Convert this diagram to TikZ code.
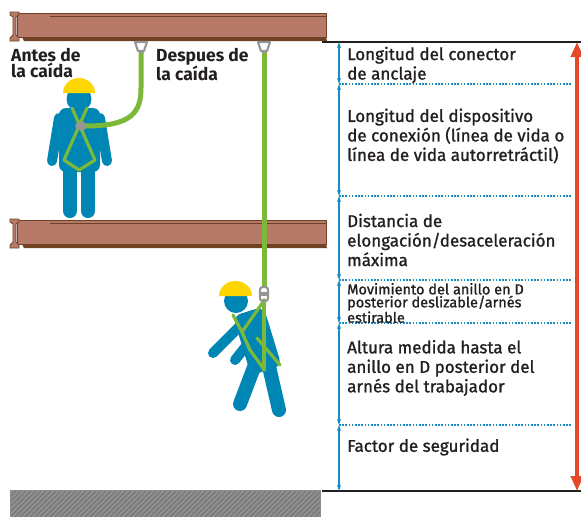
\documentclass[tikz,border=0pt]{standalone}
\usepackage{fontspec}
\setmainfont{Fira Sans}
\newfontfamily\notefont{Fira Sans}[FakeBold=1.2]
\usetikzlibrary{arrows.meta,positioning}

\definecolor{beamface}{RGB}{183,122,104}
\definecolor{beamdark}{RGB}{112,66,36}
\definecolor{workerblue}{RGB}{0,134,181}
\definecolor{hatyellow}{RGB}{255,214,0}
\definecolor{harnessgreen}{RGB}{124,184,58}
\definecolor{ringgray}{RGB}{150,150,150}
\definecolor{dimblue}{RGB}{26,140,195}
\definecolor{fallred}{RGB}{232,72,42}
\definecolor{floorgray}{RGB}{142,142,142}
\definecolor{textdark}{RGB}{35,31,32}

\tikzset{
  body/.style={fill=workerblue},
  limb/.style={draw=workerblue, line cap=round},
  strap/.style={draw=harnessgreen, line width=3.2, line join=round, line cap=round},
  lanyard/.style={draw=harnessgreen, line width=5},
  ring/.style={draw=ringgray, line width=2.2, line join=round},
  dimarrow/.style={draw=dimblue, line width=1.3,
    {Stealth[length=6pt,width=4pt]}-{Stealth[length=6pt,width=4pt]}},
  dotline/.style={draw=dimblue, line width=1.2, dash pattern=on 1.6pt off 1.6pt},
  lbl/.style={anchor=west, align=left, inner sep=0pt, text=textdark,
    font=\notefont\fontsize{17}{19.5}\selectfont},
  caption/.style={anchor=north west, align=left, inner sep=0pt, text=textdark,
    font=\bfseries\fontsize{17.5}{16}\selectfont},
  % steel I-beam, origin at the top left of its end profile
  ibeam/.pic={
    \filldraw[fill=beamface, draw=beamdark, line width=.8] (7,1) rectangle (316,25);
    \draw[beamdark, line width=1] (40,4) -- (316,4);
    \fill[beamdark] (12,25) -- (316,25) -- (317,29) -- (14,29) -- cycle;
    \filldraw[fill=beamface, draw=beamdark, line width=.8]
      (0,0) -- (9,0) -- (9,3) -- (6,5) -- (6,23) -- (9,26) -- (9,29)
      -- (0,29) -- (0,26) -- (3,23) -- (3,5) -- (0,3) -- cycle;
  },
  anchorring/.pic={
    \draw[ring] (-6,0) -- (6,0) -- (3,9) -- (-3,9) -- cycle;
    \fill[ringgray] (-2.5,8) rectangle (2.5,11);
  }
}

\begin{document}
\begin{tikzpicture}[x=1pt,y=-1pt]
  \useasboundingbox (0,0) rectangle (581,517);

  % beams and floor
  \pic at (10,12) {ibeam};
  \pic at (10,219) {ibeam};
  \fill[floorgray] (10,490) rectangle (320,517);
  \begin{scope}
    \clip (10,490) rectangle (320,517);
    \foreach \i in {-30,-25,...,320}
      \draw[black!60, line width=.5] (\i,517) -- (\i+27,490);
  \end{scope}
  \draw[black!45, line width=.8] (10,517) -- (10,490) -- (320,490) -- (320,517);

  % anchors
  \pic at (141,42) {anchorring};
  \pic at (264,42) {anchorring};
  \coordinate (anchorA) at (141,53);
  \coordinate (anchorB) at (264,53);

  % worker before the fall
  \fill[body] (79,99) circle (12.5);
  \fill[hatyellow] (63,93) arc (180:360:16 and 15) -- cycle;
  \fill[body, rounded corners=7] (59,108) rectangle (100,172);
  \draw[limb, line width=10] (59,118) -- (52,161);
  \draw[limb, line width=10] (100,118) -- (107,161);
  \draw[limb, line width=14] (70,165) -- (70,211);
  \draw[limb, line width=14] (88,165) -- (88,211);
  \draw[strap] (72,108) -- (95,160) -- (79,170) -- (64,160) -- (87,108);
  \coordinate (ringA) at (81,126);
  \fill[ringgray] (ringA) ellipse (6 and 4.5);
  \draw[lanyard] (ringA) ++(5,0) .. controls (132,126) and (141,112) .. (141,88) -- (anchorA);

  % worker after the fall
  \coordinate (ringB) at (264,295);
  \draw[lanyard] (anchorB) -- (264,288);
  \fill[body] (236,301) circle (12);
  \fill[hatyellow] (215,296) -- (219,296) arc (180:360:16.5 and 15) -- cycle;
  \draw[limb, line width=10] (242,324) -- (213,353);
  \draw[limb, line width=10] (254,336) -- (235,360);
  \draw[limb, line width=14] (256,362) -- (240,404);
  \draw[limb, line width=14] (268,362) -- (279,410);
  \fill[body, rounded corners=8, rotate around={17:(257,340)}] (241,310) rectangle (273,372);
  \draw[strap] (264,300) -- (264,370);
  \draw[strap] (233,315) -- (242,332) -- (263,302);
  \draw[strap] (242,332) -- (250,350) -- (263,368);
  \draw[strap] (257,338) -- (280,365);
  \draw[ring, rounded corners=2.5] (260,287) rectangle (268,301);
  \fill[ringgray] (261,292) rectangle (267,296);

  % captions
  \node[caption] (before) at (11,48) {Antes de\\la caída};
  \node[caption] (after) at (156,48) {Despues de\\la caída};

  % reference lines and dimension chain
  \draw[textdark, line width=1.2] (322,42) -- (581,42);
  \draw[textdark, line width=1.2] (322,491) -- (581,491);
  \foreach \y [count=\k from 0] in {42,84,196,280,323,425,491} {
    \coordinate (d\k) at (339,\y);
    \coordinate (e\k) at (572,\y);
  }
  \foreach \k in {1,...,5}
    \draw[dotline] (d\k) -- (e\k);
  \foreach \a/\b in {0/1,1/2,2/3,3/4,4/5,5/6}
    \draw[dimarrow] (d\a) -- (d\b);

  % total clearance
  \coordinate (redtop) at (577,42);
  \coordinate (redbot) at (577,491);
  \draw[fallred, line width=4.5, {Triangle[length=15pt,width=12pt]}-{Triangle[length=15pt,width=12pt]}]
    (redtop) -- (redbot);

  % dimension labels
  \node[lbl] (anchorlen) at (347,65) {Longitud del conector\\de anclaje};
  \node[lbl] (devicelen) at (347,136) {Longitud del dispositivo\\de conexión (línea de vida o\\línea de vida autorretráctil)};
  \node[lbl] (decel) at (347,240) {Distancia de\\elongación/desaceleración\\máxima};
  \node[lbl, font=\notefont\fontsize{14.5}{13}\selectfont] (dring) at (347,303)
    {Movimiento del anillo en D\\posterior deslizable/arnés\\estirable};
  \node[lbl] (height) at (347,368) {Altura medida hasta el\\anillo en D posterior del\\arnés del trabajador};
  \node[lbl] (safety) at (347,447) {Factor de seguridad};
\end{tikzpicture}
\end{document}
